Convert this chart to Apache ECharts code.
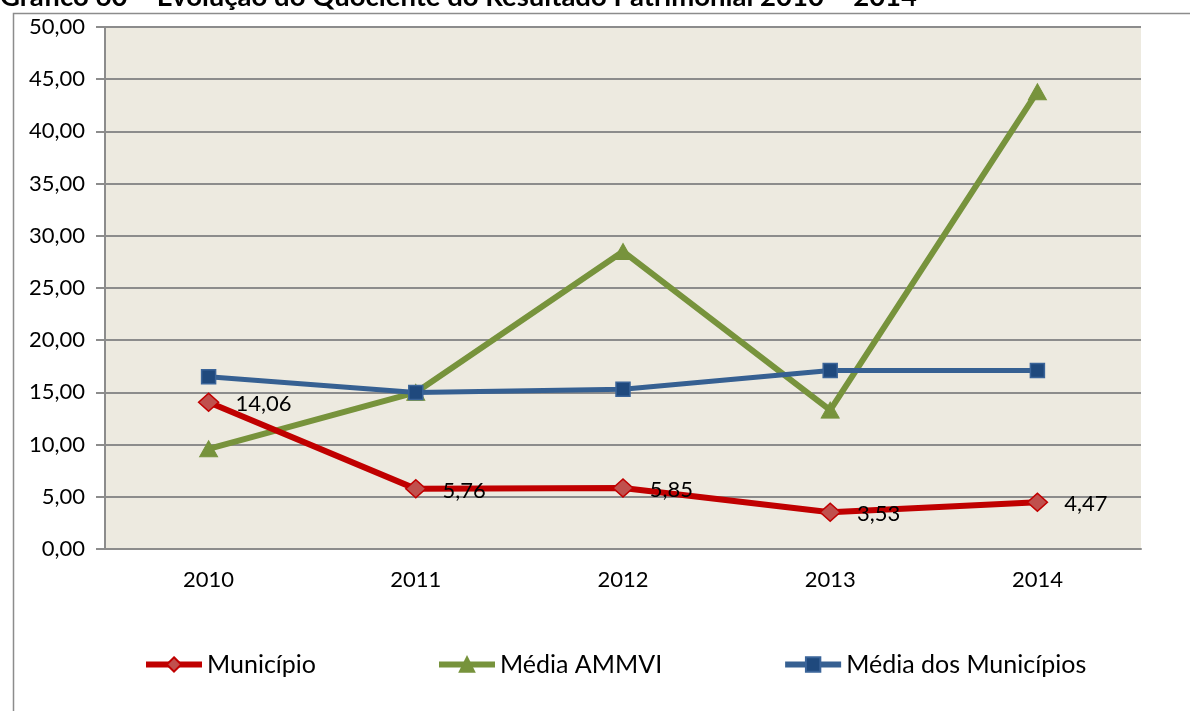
<!DOCTYPE html>
<html>
<head>
<meta charset="utf-8">
<script src="https://cdn.jsdelivr.net/npm/echarts@6/dist/echarts.min.js"></script>
<style>
html,body{margin:0;padding:0;background:#fff;}
#chart{width:1190px;height:711px;}
</style>
</head>
<body>
<div id="chart"></div>
<script>
const titleText = 'Gráfico 60 – Evolução do Quociente do Resultado Patrimonial 2010 – 2014';
const categories = ['2010', '2011', '2012', '2013', '2014'];
const municipio = [14.06, 5.76, 5.85, 3.53, 4.47];
const mediaAmmvi = [9.6, 15.0, 28.5, 13.3, 43.8];
const mediaMunicipios = [16.5, 15.0, 15.3, 17.1, 17.1];
const seriesNames = ['Município', 'Média AMMVI', 'Média dos Municípios'];

const FONT = 'Lato, "Noto Sans", sans-serif';
const fmt = v => v.toFixed(2).replace('.', ',');

const chart = echarts.init(document.getElementById('chart'), null, {renderer: 'canvas'});
chart.setOption({
  animation: false,
  backgroundColor: '#ffffff',
  graphic: [
    {
      type: 'rect', left: 11, top: 11, z: -10,
      shape: {x: 0, y: 0, width: 1200, height: 720},
      style: {fill: 'none', stroke: '#8c8c8c', lineWidth: 1.5}
    },
    {
      type: 'text', x: 0, y: 11, z: 10,
      style: {text: titleText, font: 'bold 27.5px ' + FONT, fill: '#000', textVerticalAlign: 'bottom'}
    }
  ],
  legend: {
    left: 143, top: 652, padding: 0,
    itemWidth: 56, itemHeight: 18, itemGap: 120,
    lineStyle: {width: 6},
    textStyle: {fontFamily: FONT, fontSize: 25, color: '#000'},
    data: seriesNames
  },
  grid: {left: 105, right: 49, top: 27, bottom: 162, containLabel: false,
         show: true, backgroundColor: '#EDEAE0', borderWidth: 0},
  xAxis: {
    type: 'category', data: categories, boundaryGap: true,
    axisLine: {lineStyle: {color: '#8c8c8c', width: 2}},
    axisTick: {show: false},
    axisLabel: {fontFamily: FONT, fontSize: 22, color: '#000', margin: 20}
  },
  yAxis: {
    type: 'value', min: 0, max: 50, interval: 5,
    axisLine: {show: true, lineStyle: {color: '#8c8c8c', width: 2}},
    axisTick: {show: true, length: 9, lineStyle: {color: '#8c8c8c', width: 2}},
    splitLine: {lineStyle: {color: '#8c8c8c', width: 2}},
    axisLabel: {fontFamily: FONT, fontSize: 22, color: '#000', margin: 20, formatter: v => fmt(v)}
  },
  series: [
    {
      name: seriesNames[0], type: 'line', data: municipio, z: 5,
      symbol: 'diamond', symbolSize: [20, 18],
      lineStyle: {color: '#C00000', width: 6},
      itemStyle: {color: '#C0504D', borderColor: '#C00000', borderWidth: 1.5},
      label: {show: true, position: 'right', distance: 16, offset: [0, 2],
              fontFamily: FONT, fontSize: 22, color: '#000', formatter: p => fmt(p.value)}
    },
    {
      name: seriesNames[1], type: 'line', data: mediaAmmvi, z: 3,
      symbol: 'triangle', symbolSize: [18, 16],
      lineStyle: {color: '#77933C', width: 6},
      itemStyle: {color: '#77933C', borderColor: '#77933C', borderWidth: 1}
    },
    {
      name: seriesNames[2], type: 'line', data: mediaMunicipios, z: 4,
      symbol: 'rect', symbolSize: 14,
      lineStyle: {color: '#366092', width: 5},
      itemStyle: {color: '#1F497D', borderColor: '#3A6499', borderWidth: 1.5}
    }
  ]
});
</script>
</body>
</html>
